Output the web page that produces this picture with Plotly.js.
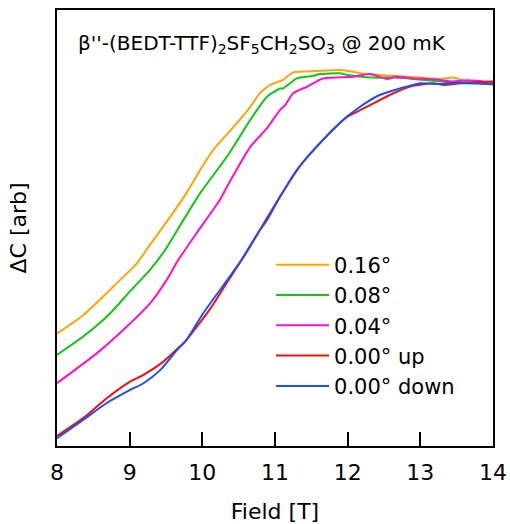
<!DOCTYPE html>
<html>
<head>
<meta charset="utf-8">
<script src="https://cdn.plot.ly/plotly-3.0.1.min.js"></script>
<style>html,body{margin:0;padding:0;background:#fff;}#chart{width:510px;height:524px;}</style>
</head>
<body>
<div id="chart"></div>
<script>
// Field [T] and ΔC [arb] values
const orangeField = [8.00, 8.36, 8.82, 9.10, 9.23, 9.56, 9.78, 9.97, 10.15, 10.43, 10.66, 10.79, 10.93, 11.11, 11.25, 11.57, 11.94, 12.26, 12.63, 13.00, 13.27, 13.45, 13.64, 14.00];
const orangeDC    = [25.8, 30.0, 37.3, 41.9, 45.0, 52.6, 58.0, 63.3, 67.9, 73.2, 77.8, 80.9, 82.8, 84.0, 85.7, 86.0, 86.2, 85.3, 84.9, 84.5, 84.2, 84.5, 83.7, 83.4];

const greenField = [8.00, 8.36, 8.73, 9.00, 9.28, 9.49, 9.56, 9.97, 10.34, 10.66, 10.89, 11.07, 11.11, 11.30, 11.53, 11.62, 11.89, 11.99, 12.35, 12.63, 12.90, 13.22, 13.55, 14.00];
const greenDC    = [20.9, 25.1, 30.4, 35.4, 40.4, 45.0, 46.9, 58.0, 66.4, 74.8, 80.1, 82.0, 82.0, 84.3, 84.9, 85.3, 85.5, 85.1, 84.5, 84.5, 84.2, 83.7, 83.2, 83.2];

const magentaField = [8.00, 8.55, 8.91, 9.28, 9.51, 9.67, 9.92, 10.24, 10.34, 10.66, 10.89, 11.07, 11.14, 11.25, 11.44, 11.66, 12.08, 12.31, 12.54, 12.67, 12.90, 13.18, 13.45, 13.64, 14.00];
const magentaDC    = [14.4, 21.3, 26.6, 32.7, 38.1, 42.7, 48.8, 56.4, 59.5, 68.6, 72.9, 77.1, 78.2, 80.9, 82.4, 84.3, 84.7, 85.3, 84.2, 84.7, 84.3, 84.1, 83.6, 83.9, 83.4];

const redField = [8.00, 8.36, 8.68, 9.00, 9.19, 9.46, 9.69, 9.78, 10.11, 10.34, 10.63, 10.79, 11.07, 11.34, 11.57, 11.89, 11.99, 12.12, 12.31, 12.63, 12.90, 13.18, 13.32, 13.55, 14.00];
const redDC    = [2.3, 6.4, 10.9, 14.7, 16.3, 19.3, 22.8, 24.3, 31.5, 37.5, 45.0, 49.5, 57.2, 64.1, 68.6, 74.0, 75.5, 76.6, 78.2, 80.9, 82.6, 83.2, 82.8, 83.2, 83.6];

const blueField = [8.00, 8.36, 8.68, 9.00, 9.19, 9.42, 9.65, 9.78, 10.01, 10.34, 10.54, 10.79, 10.89, 11.07, 11.30, 11.57, 11.89, 12.17, 12.44, 12.72, 13.00, 13.27, 13.55, 13.78, 14.00];
const blueDC    = [1.8, 6.0, 9.8, 12.8, 14.4, 17.4, 22.0, 24.3, 30.4, 38.0, 42.7, 49.5, 51.8, 57.2, 63.3, 68.6, 74.1, 77.8, 80.5, 82.0, 83.2, 83.0, 83.4, 83.2, 82.9];

const seriesNames = ["0.16°", "0.08°", "0.04°", "0.00° up", "0.00° down"];
const seriesColors = ["#ffa500", "#10c810", "#ff10cc", "#f01010", "#1a50f5"];
const xTicks = [8, 9, 10, 11, 12, 13, 14];

const FONT = "DejaVu Sans, Verdana, sans-serif";
const xs = [orangeField, greenField, magentaField, redField, blueField];
const ys = [orangeDC, greenDC, magentaDC, redDC, blueDC];

const traces = xs.map((x, i) => ({
  x: x, y: ys[i], type: "scatter", mode: "lines",
  name: seriesNames[i],
  line: {color: seriesColors[i], width: 2, shape: "spline", smoothing: 0.6}
}));

const layout = {
  width: 510, height: 524,
  margin: {l: 57, r: 17, t: 10, b: 78},
  paper_bgcolor: "#fff", plot_bgcolor: "#fff",
  font: {family: FONT, color: "#000", size: 22},
  showlegend: true,
  legend: {
    x: 0.491, y: 0.462, xanchor: "left", yanchor: "top",
    bgcolor: "rgba(0,0,0,0)", borderwidth: 0,
    itemwidth: 53,
    font: {family: FONT, size: 21, color: "#000"},
    tracegroupgap: 0
  },
  xaxis: {
    range: [8, 14], tickvals: xTicks, ticktext: xTicks.map(String),
    ticks: "inside", ticklen: 14, tickwidth: 2, tickcolor: "#000",
    showline: true, linewidth: 2, linecolor: "#000", mirror: true,
    showgrid: false, zeroline: false,
    tickfont: {family: FONT, size: 22, color: "#000"},
    ticklabelstandoff: 6,
    title: {text: "Field [T]", font: {family: FONT, size: 22, color: "#000"}, standoff: 22}
  },
  yaxis: {
    range: [0, 100], showticklabels: false, ticks: "",
    showline: true, linewidth: 2, linecolor: "#000", mirror: true,
    showgrid: false, zeroline: false,
    title: {text: "ΔC [arb]", font: {family: FONT, size: 22, color: "#000"}, standoff: 22}
  },
  annotations: [{
    xref: "paper", yref: "paper", x: 0.044, y: 0.922, xanchor: "left", yanchor: "middle",
    showarrow: false,
    text: "β''-(BEDT-TTF)<sub>2</sub>SF<sub>5</sub>CH<sub>2</sub>SO<sub>3</sub> @ 200 mK",
    font: {family: FONT, size: 20, color: "#000"}
  }]
};

Plotly.newPlot("chart", traces, layout, {displayModeBar: false, staticPlot: true});
</script>
</body>
</html>
